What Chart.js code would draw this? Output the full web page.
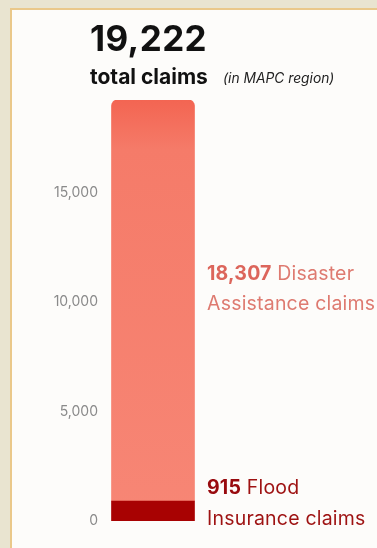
<!DOCTYPE html>
<html>
<head>
<meta charset="utf-8">
<script src="https://cdn.jsdelivr.net/npm/chart.js@4"></script>
<style>
  html, body { margin: 0; padding: 0; overflow: hidden; background: #fdfcfa; }
  body { width: 377px; height: 548px; position: relative; font-family: Inter, "Open Sans", sans-serif; }
  .bg { position: absolute; background: #e9e4d0; }
  #bgLeft { left: 0; top: 0; width: 10px; height: 548px; }
  #bgTop { left: 0; top: 0; width: 377px; height: 8px; }
  .edge { position: absolute; background: #eac88a; }
  #edgeLeft { left: 10px; top: 8px; width: 2px; height: 540px; }
  #edgeTop { left: 10px; top: 8px; width: 367px; height: 2px; }
  #wrap { position: absolute; left: 0; top: 0; width: 377px; height: 548px; }
  .t { position: absolute; white-space: nowrap; }
  #big { left: 90px; top: 17px; font-size: 35px; font-weight: 700; color: #111; letter-spacing: 0.4px; }
  #sub { left: 90px; top: 64px; font-size: 21px; font-weight: 700; color: #111; }
  #region { left: 223px; top: 70px; font-size: 13.8px; font-style: italic; color: #222; }
  .lab { font-size: 19.5px; letter-spacing: 0.2px; }
  #dis1 { left: 207px; top: 261px; color: #de7a70; }
  #dis2 { left: 207px; top: 291px; color: #de7a70; }
  #fl1 { left: 207px; top: 475px; color: #9e1212; }
  #fl2 { left: 207px; top: 506px; color: #9e1212; }
  b.dnum { color: #dc655b; }
  b.fnum { color: #980a0e; }
</style>
</head>
<body>
<div class="bg" id="bgLeft"></div>
<div class="bg" id="bgTop"></div>
<div class="edge" id="edgeLeft"></div>
<div class="edge" id="edgeTop"></div>
<div id="wrap"><canvas id="c"></canvas></div>
<div class="t" id="big">19,222</div>
<div class="t" id="sub">total claims</div>
<div class="t" id="region">(in MAPC region)</div>
<div class="t lab" id="dis1"><b class="dnum">18,307</b> Disaster</div>
<div class="t lab" id="dis2">Assistance claims</div>
<div class="t lab" id="fl1"><b class="fnum">915</b> Flood</div>
<div class="t lab" id="fl2">Insurance claims</div>
<script>
const categories = ["MAPC region"];
const floodInsuranceClaims = [915];
const disasterAssistanceClaims = [18307];
const totalClaims = 19222;
const tickValues = [0, 5000, 10000, 15000];

function salmonGradient(ctx) {
  const chart = ctx.chart;
  const area = chart.chartArea;
  if (!area) return '#f6806e';
  const g = chart.ctx.createLinearGradient(0, area.top, 0, area.bottom);
  g.addColorStop(0, '#f36552');
  g.addColorStop(0.12, '#f57b69');
  g.addColorStop(1, '#f78675');
  return g;
}

new Chart(document.getElementById('c'), {
  type: 'bar',
  data: {
    labels: categories,
    datasets: [
      {
        label: 'Flood Insurance claims',
        data: floodInsuranceClaims,
        backgroundColor: '#a80202',
        barThickness: 83,
        borderRadius: 0,
        borderSkipped: false
      },
      {
        label: 'Disaster Assistance claims',
        data: disasterAssistanceClaims,
        backgroundColor: salmonGradient,
        barThickness: 83,
        borderRadius: { topLeft: 6, topRight: 6, bottomLeft: 0, bottomRight: 0 },
        borderSkipped: false
      }
    ]
  },
  options: {
    responsive: true,
    maintainAspectRatio: false,
    animation: false,
    layout: { padding: { top: 100, bottom: 27, left: 0, right: 171 } },
    plugins: { legend: { display: false }, tooltip: { enabled: false }, title: { display: false } },
    scales: {
      x: { stacked: true, display: false },
      y: {
        stacked: true,
        min: 0,
        max: totalClaims,
        grid: { display: false, drawTicks: false },
        border: { display: false },
        afterFit: (s) => { s.width = 100; },
        afterBuildTicks: (s) => { s.ticks = tickValues.map(v => ({ value: v })); },
        ticks: {
          padding: 2,
          color: '#8a8a8a',
          font: { family: 'Inter, "Open Sans", sans-serif', size: 14 },
          callback: (v) => Number(v).toLocaleString('en-US')
        }
      }
    }
  }
});
</script>
</body>
</html>
